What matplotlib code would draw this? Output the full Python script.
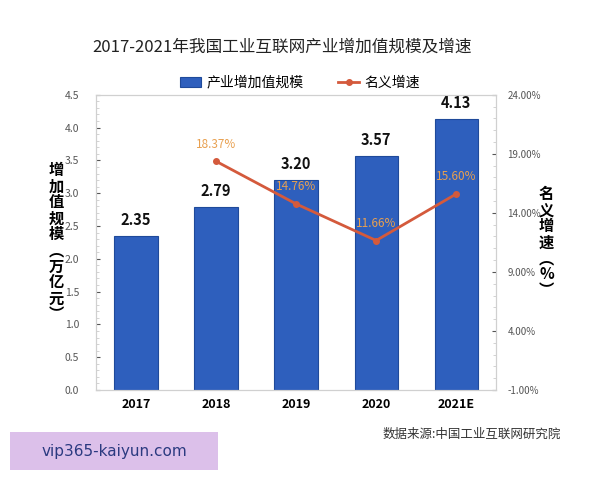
import numpy as np
import matplotlib.pyplot as plt
from matplotlib.ticker import MultipleLocator, FuncFormatter
from matplotlib.patches import Rectangle

plt.rcParams['font.family'] = ['Noto Sans CJK SC', 'DejaVu Sans']

years = ['2017', '2018', '2019', '2020', '2021E']
scale = [2.35, 2.79, 3.20, 3.57, 4.13]
growth_years = ['2018', '2019', '2020', '2021E']
growth = [18.37, 14.76, 11.66, 15.60]

fig = plt.figure(figsize=(6, 4.8), dpi=100)
ax = fig.add_axes([0.16, 0.1875, 0.667, 0.615])
x = np.arange(len(years))
bars = ax.bar(x, scale, width=0.54, color='#2e5fbd', edgecolor='#1f4a9a', linewidth=0.8,
              label='产业增加值规模', zorder=2)
for xi, v in zip(x, scale):
    ax.text(xi, v + 0.12, f'{v:.2f}', ha='center', va='bottom', fontsize=10.5,
            fontweight='bold', color='#111111')

ax.set_xlim(-0.5, 4.5)
ax.set_ylim(0, 4.5)
ax.set_xticks(x)
ax.set_xticklabels(years, fontsize=9, fontweight='bold')
ax.yaxis.set_major_locator(MultipleLocator(0.5))
ax.yaxis.set_minor_locator(MultipleLocator(0.1))
ax.yaxis.set_major_formatter(FuncFormatter(lambda v, p: f'{v:.1f}'))
ax.tick_params(axis='y', labelsize=7.5, colors='#555555', length=3, direction='in', pad=12)
ax.tick_params(axis='y', which='minor', length=2, direction='in', color='#cccccc')
ax.tick_params(axis='x', length=0, pad=6)
for s in ax.spines.values():
    s.set_color('#d0d0d0')
ax.set_ylabel('增\n加\n值\n规\n模\n︵\n万\n亿\n元\n︶', rotation=0, fontsize=11,
              fontweight='bold', va='center', labelpad=6, linespacing=1.0)

ax2 = ax.twinx()
gx = [years.index(y) for y in growth_years]
ax2.plot(gx, growth, color='#d45a3c', linewidth=2, marker='o', markersize=4,
         markerfacecolor='#d45a3c', label='名义增速', zorder=3)
for xi, v in zip(gx, growth):
    ax2.text(xi, v + 0.9, f'{v:.2f}%', ha='center', va='bottom', fontsize=8.5, color='#e8a050')
ax2.set_ylim(-1, 24)
ax2.set_yticks(np.arange(-1, 25, 5))
ax2.set_yticks(np.arange(-1, 25, 1), minor=True)
ax2.yaxis.set_major_formatter(FuncFormatter(lambda v, p: f'{v:.2f}%'))
ax2.tick_params(axis='y', labelsize=7, colors='#555555', length=3, direction='in', pad=8)
ax2.tick_params(axis='y', which='minor', length=2, direction='in', color='#cccccc')
for s in ax2.spines.values():
    s.set_color('#d0d0d0')
ax2.set_ylabel('名\n义\n增\n速\n︵\n%\n︶', rotation=0, fontsize=11, fontweight='bold',
               va='center', labelpad=4, linespacing=1.0)

fig.text(0.47, 0.902, '2017-2021年我国工业互联网产业增加值规模及增速', ha='center', va='center',
         fontsize=12, color='#222222')
h1, l1 = ax.get_legend_handles_labels()
h2, l2 = ax2.get_legend_handles_labels()
fig.legend(h1 + h2, l1 + l2, loc='center', bbox_to_anchor=(0.5, 0.828), ncol=2, frameon=False,
           fontsize=10, handlelength=1.5, columnspacing=2.5, handletextpad=0.4)

fig.text(0.935, 0.095, '数据来源:中国工业互联网研究院', ha='right', va='center', fontsize=9, color='#333333')
fig.patches.append(Rectangle((0.017, 0.02), 0.347, 0.08, transform=fig.transFigure,
                             facecolor='#dcc0ea', edgecolor='none'))
fig.text(0.19, 0.06, 'vip365-kaiyun.com', ha='center', va='center', fontsize=11, color='#2b3a80',
         family=['DejaVu Sans'])

fig.savefig('out.png', dpi=100)
